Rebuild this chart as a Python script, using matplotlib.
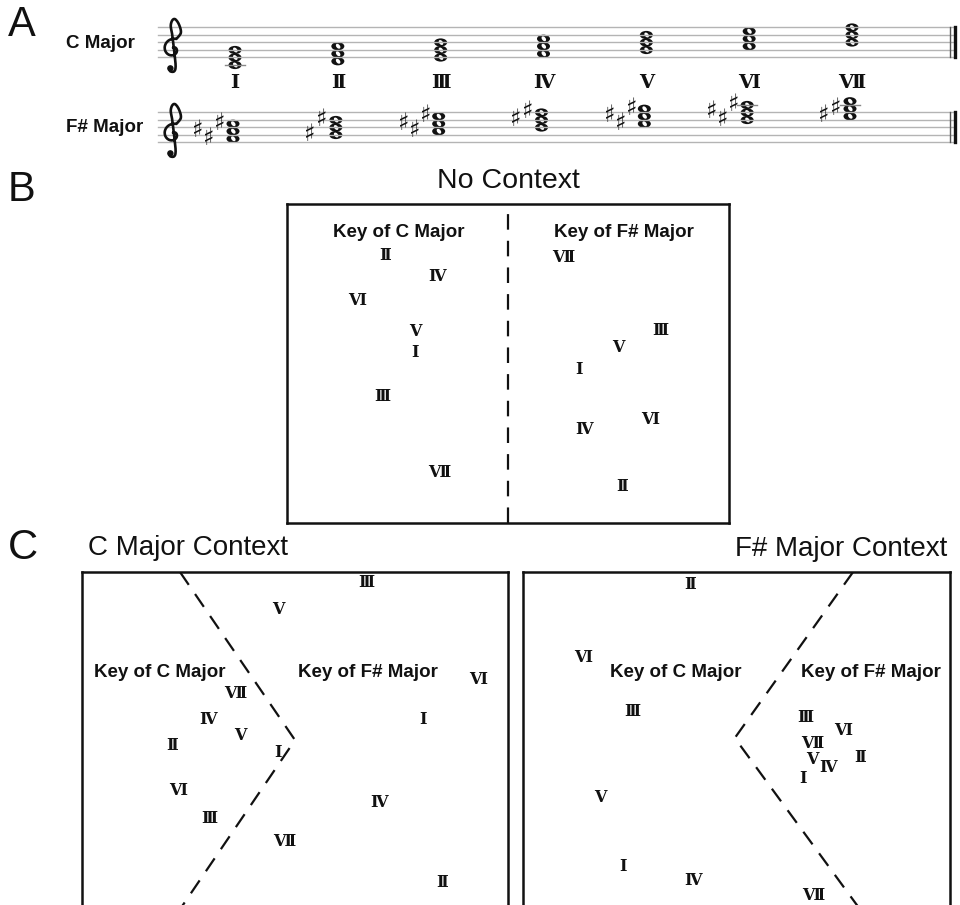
import numpy as np
import matplotlib
matplotlib.use("Agg")
import matplotlib.pyplot as plt
from matplotlib.patches import Ellipse

W, H = 960, 905

# ---- panel A : triads, given as staff steps above the bottom line (E4 = 0)
degrees = ['Ⅰ', 'Ⅱ', 'Ⅲ', 'Ⅳ', 'Ⅴ', 'Ⅵ', 'Ⅶ']
c_steps = [[-2, 0, 2], [-1, 1, 3], [0, 2, 4], [1, 3, 5], [2, 4, 6], [3, 5, 7], [4, 6, 8]]
fs_steps = [[1, 3, 5], [2, 4, 6], [3, 5, 7], [4, 6, 8], [5, 7, 9], [6, 8, 10], [7, 9, 11]]
fs_sharp = [[1, 1, 1], [1, 0, 1], [1, 1, 1], [0, 1, 1], [1, 1, 1], [1, 1, 1], [1, 1, 0]]

# ---- panels B, C : positions of the chords (box width / height = 100)
nc_c_x = [29.0, 22.2, 21.5, 33.9, 29.0, 15.8, 34.4]
nc_c_y = [53.3, 84.0, 39.5, 77.4, 59.9, 69.9, 15.7]
nc_fs_x = [66.1, 75.8, 84.4, 67.2, 74.9, 82.1, 62.4]
nc_fs_y = [48.0, 11.3, 60.5, 29.2, 54.9, 32.3, 83.1]

cc_c_x = [46.0, 21.1, 29.8, 29.6, 37.1, 22.5, 35.9]
cc_c_y = [47.5, 49.3, 28.0, 56.9, 52.2, 36.2, 64.7]
cc_fs_x = [80.0, 84.5, 66.7, 69.7, 46.2, 93.0, 47.4]
cc_fs_y = [57.1, 9.6, 96.8, 32.7, 89.2, 68.8, 21.3]

fc_c_x = [23.4, 39.1, 25.5, 39.8, 18.0, 14.1, 67.9]
fc_c_y = [14.0, 96.5, 59.2, 10.2, 34.4, 75.2, 5.8]
fc_fs_x = [65.6, 78.9, 66.0, 71.4, 67.7, 74.9, 67.7]
fc_fs_y = [39.7, 45.8, 57.7, 42.9, 45.2, 53.9, 50.1]

# dashed borders between the two keys
nc_line_x, nc_line_y = [50.0, 50.0], [0, 100]
cc_line_x, cc_line_y = [23.0, 50.0, 22.1], [100, 51.0, 0]
fc_line_x, fc_line_y = [77.3, 49.6, 79.9], [100, 51.6, 0]

ink = '#111111'
num_font = ['DejaVu Serif', 'DejaVu Sans']

fig = plt.figure(figsize=(W / 100, H / 100), dpi=100)


def px_axes(x0, y0, x1, y1):
    return fig.add_axes([x0 / W, 1 - y1 / H, (x1 - x0) / W, (y1 - y0) / H])


def ftext(x, y, s, **kw):
    fig.text(x / W, 1 - y / H, s, **kw)


def smooth(pts, n=10):
    p = np.asarray(pts, float)
    p = np.vstack([p[0], p, p[-1]])
    out = []
    t = np.linspace(0, 1, n, endpoint=False)[:, None]
    for i in range(1, len(p) - 2):
        p0, p1, p2, p3 = p[i - 1], p[i], p[i + 1], p[i + 2]
        out.append(0.5 * (2 * p1 + (-p0 + p2) * t + (2 * p0 - 5 * p1 + 4 * p2 - p3) * t ** 2
                          + (-p0 + 3 * p1 - 3 * p2 + p3) * t ** 3))
    out.append(p[-2][None])
    return np.vstack(out)


# ================= A =================
axA = px_axes(0, 0, W, 160)
axA.set_xlim(0, W)
axA.set_ylim(160, 0)
axA.axis('off')

sp = 7.5
staff_bottoms = [57.5, 142.5]
chord_x = np.linspace(235, 852, 7)


def treble_clef(ax, x0, g_line):
    th = np.linspace(0, 2.1 * np.pi, 60)
    r = 0.2 + 1.25 * th / (2.1 * np.pi)
    spiral = np.column_stack([r * np.sin(th), r * np.cos(th) + 0.1])
    tail = smooth([spiral[-1], (1.05, 2.3), (0.8, 3.4), (0.3, 4.1), (-0.1, 3.95),
                   (-0.3, 3.2), (-0.1, 2.0), (0.2, -0.5), (0.35, -2.2),
                   (0.15, -2.85), (-0.35, -2.85), (-0.5, -2.5)])
    pts = np.vstack([spiral, tail])
    ax.plot(x0 + pts[:, 0] * sp, g_line - pts[:, 1] * sp, color=ink, lw=1.9,
            solid_capstyle='round')
    ax.add_patch(Ellipse((x0 - 0.35 * sp, g_line + 2.45 * sp), 5, 5, color=ink))


def note(ax, x, y):
    ax.add_patch(Ellipse((x, y), 13.0, 8.2, facecolor=ink, edgecolor='none'))
    ax.add_patch(Ellipse((x + 0.3, y), 3.6, 5.6, angle=-40, facecolor='white', edgecolor='none'))


for bottom in staff_bottoms:
    for i in range(5):
        axA.plot([158, 955], [bottom - i * sp] * 2, color='#b4b4b4', lw=1.0)
    axA.plot([950, 950], [bottom - 4 * sp, bottom], color='#555555', lw=1.0)
    axA.plot([955, 955], [bottom - 4 * sp, bottom], color=ink, lw=2.4)
    treble_clef(axA, 173, bottom - sp)

for row, (bottom, chords) in enumerate(zip(staff_bottoms, [c_steps, fs_steps])):
    for k, steps in enumerate(chords):
        cx = chord_x[k] + (-2 if row else 0)
        for s in steps:
            if s <= -2 or s >= 10:
                lv = -2 if s <= -2 else 10
                axA.plot([cx - 10, cx + 10], [bottom - lv * sp / 2] * 2, color='#888888', lw=1.0)
            note(axA, cx, bottom - s * sp / 2)
        if row == 1:
            sharp_steps = [s for s, f in zip(steps, fs_sharp[k]) if f][::-1]
            offs = [-13, -35, -24] if len(sharp_steps) == 3 else [-14, -26]
            for s, o in zip(sharp_steps, offs):
                axA.text(cx + o, bottom - s * sp / 2 - 1, '♯', ha='center', va='center',
                         fontsize=17, color=ink, family='DejaVu Sans')

for k, d in enumerate(degrees):
    axA.text(chord_x[k], 83, d, ha='center', va='center', fontsize=14,
             fontweight='bold', family=num_font, color=ink)

ftext(66, 44, 'C Major', ha='left', va='center', fontsize=13.5, fontweight='bold',
      family='Liberation Sans', color=ink)
ftext(66, 128, 'F# Major', ha='left', va='center', fontsize=13.5, fontweight='bold',
      family='Liberation Sans', color=ink)


# ================= B, C =================
def mds_panel(rect, cx, cy, fx, fy, lx, ly, key_pos):
    ax = px_axes(*rect)
    ax.set_xlim(0, 100)
    ax.set_ylim(0, 100)
    ax.set_xticks([])
    ax.set_yticks([])
    for sp_ in ax.spines.values():
        sp_.set_linewidth(1.8)
        sp_.set_color(ink)
    ax.plot(lx, ly, color=ink, lw=1.6, dashes=(7, 5))
    for xs, ys in [(cx, cy), (fx, fy)]:
        for d, x, y in zip(degrees, xs, ys):
            ax.text(x, y, d, ha='center', va='center', fontsize=11.5, fontweight='bold',
                    family=num_font, color=ink)
    for (x, y), s in zip(key_pos, ['Key of C Major', 'Key of F# Major']):
        ax.text(x, y, s, ha='center', va='center', fontsize=13.5, fontweight='bold',
                family='Liberation Sans', color=ink)
    return ax


mds_panel((287, 204, 729, 523), nc_c_x, nc_c_y, nc_fs_x, nc_fs_y, nc_line_x, nc_line_y,
          [(25.2, 91.2), (76.2, 91.2)])
mds_panel((82, 572, 508, 915), cc_c_x, cc_c_y, cc_fs_x, cc_fs_y, cc_line_x, cc_line_y,
          [(18.3, 70.6), (67.1, 70.6)])
mds_panel((523, 572, 950, 915), fc_c_x, fc_c_y, fc_fs_x, fc_fs_y, fc_line_x, fc_line_y,
          [(35.8, 70.6), (81.5, 70.6)])

ftext(508, 181, 'No Context', ha='center', va='center', fontsize=20.5,
      family='Liberation Sans', color=ink)
ftext(88, 548, 'C Major Context', ha='left', va='center', fontsize=20,
      family='Liberation Sans', color=ink)
ftext(947, 549, 'F# Major Context', ha='right', va='center', fontsize=20,
      family='Liberation Sans', color=ink)

for letter, y in [('A', 25), ('B', 190), ('C', 548)]:
    ftext(8, y, letter, ha='left', va='center', fontsize=30, family='Liberation Sans',
          color=ink)

fig.savefig('out.png', dpi=100, facecolor='white')
